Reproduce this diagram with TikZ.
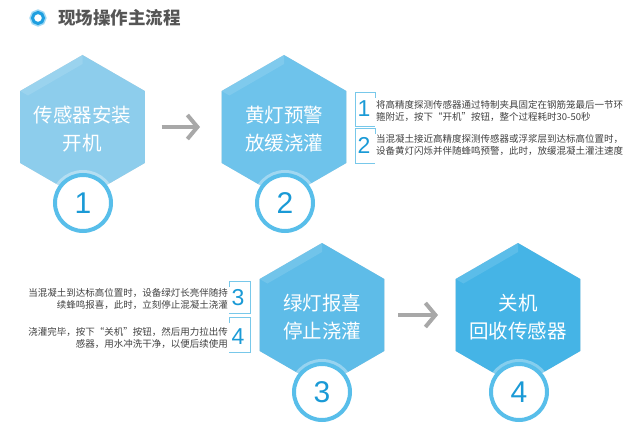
\documentclass[tikz,border=0pt]{standalone}
\usepackage{fontspec}
\setmainfont{Noto Sans CJK SC}
\newfontfamily\numfont{Liberation Sans}
\usepackage{xcolor}
\usetikzlibrary{arrows.meta,positioning}
\definecolor{hexA}{RGB}{141,205,236}
\definecolor{hexB}{RGB}{110,195,235}
\definecolor{hexC}{RGB}{94,188,232}
\definecolor{hexD}{RGB}{69,180,230}
\definecolor{shadowgrey}{RGB}{224,224,224}
\definecolor{ringblue}{RGB}{88,190,234}
\definecolor{numblue}{RGB}{26,154,214}
\definecolor{boxblue}{RGB}{120,200,234}
\definecolor{arrowgrey}{RGB}{168,168,168}
\definecolor{notegrey}{RGB}{64,64,64}
\definecolor{titlegrey}{RGB}{85,85,85}
\definecolor{iconblue}{RGB}{30,159,224}
\definecolor{iconhalo}{RGB}{160,216,243}

\begin{document}
\begin{tikzpicture}[x=1pt,y=-1pt,
	steptext/.style={inner sep=0pt,text=white,align=center,yshift=-2pt,font=\fontsize{19.5}{28}\selectfont},
	numring/.style={circle,minimum size=56pt,inner sep=0pt,fill=white,draw=ringblue,
		line width=4pt,text=numblue,font=\numfont\fontsize{30}{30}\selectfont,
		preaction={draw=white,draw opacity=.35,line width=10pt}},
	boxnum/.style={inner sep=0pt,text=numblue,font=\numfont\fontsize{23}{23}\selectfont},
	note/.style={inner sep=0pt,text=notegrey,font=\fontsize{9.5}{12}\selectfont},
	boxline/.style={draw=boxblue,line width=.8pt},
	flow/.style={draw=arrowgrey,line width=4pt,-{Straight Barb[length=10pt,width=24pt]}}]
	\useasboundingbox (0,0) rectangle (625,428);
	
	% title
	\node[circle,minimum size=11pt,inner sep=0pt,fill=white,draw=iconblue,line width=3pt,
		preaction={draw=iconhalo,line width=6pt}] (icon) at (38,18) {};
	\node[anchor=west,inner sep=0pt,text=titlegrey,font=\fontsize{17.5}{20}\selectfont\bfseries] (title) at (58,18) {现场操作主流程};
	
	% hexagons
	\coordinate (c1) at (82.5,127);
	\coordinate (c2) at (284,127);
	\coordinate (c3) at (322,315);
	\coordinate (c4) at (518,315);
	\foreach \c/\col in {c1/hexA,c2/hexB,c3/hexC,c4/hexD} {
		\fill[shadowgrey,xshift=3pt,yshift=1.5pt] (\c) +(90:72) -- +(150:72) -- +(210:72) -- +(270:72) -- +(330:72) -- +(30:72) -- cycle;
		\fill[\col] (\c) +(90:72) -- +(150:72) -- +(210:72) -- +(270:72) -- +(330:72) -- +(30:72) -- cycle;
		\fill[white,opacity=.12] (\c) +(210:72) -- +(270:72) -- +(270:63) -- +(210:63) -- cycle;
	}
	
	% steps
	\node[steptext] (s1) at (c1) {传感器安装\\开机};
	\node[steptext] (s2) at (c2) {黄灯预警\\放缓浇灌};
	\node[steptext] (s3) at (c3) {绿灯报喜\\停止浇灌};
	\node[steptext] (s4) at (c4) {关机\\回收传感器};
	
	\node[numring] (n1) at (83,203) {1};
	\node[numring] (n2) at (285,203) {2};
	\node[numring] (n3) at (322,392) {3};
	\node[numring] (n4) at (519,392) {4};
	
	\draw[flow,shorten <=79pt,shorten >=84pt] (c1) -- (c2);
	\draw[flow,shorten <=76pt,shorten >=80pt] (c3) -- (c4);
	
	% notes beside step 2
	\draw[boxline] (375,98) -- (375,92) -- (355,92) -- (355,126) -- (375,126);
	\draw[boxline] (375,134) -- (375,128) -- (355,128) -- (355,163) -- (375,163);
	\node[boxnum] (b1) at (364,109) {1};
	\node[boxnum] (b2) at (364,145) {2};
	\node[note,anchor=west,align=left] (t1) at (376,111) {将高精度探测传感器通过特制夹具固定在钢筋笼最后一节环\\箍附近，按下“开机”按钮，整个过程耗时30-50秒};
	\node[note,anchor=west,align=left] (t2) at (376,145) {当混凝土接近高精度探测传感器或浮浆层到达标高位置时，\\设备黄灯闪烁并伴随蜂鸣预警，此时，放缓混凝土灌注速度};
	
	% notes beside step 3
	\draw[boxline] (229,287) -- (229,281) -- (250,281) -- (250,313) -- (229,313);
	\draw[boxline] (229,323) -- (229,317) -- (250,317) -- (250,352) -- (229,352);
	\node[boxnum] (b3) at (238,298) {3};
	\node[boxnum] (b4) at (238,337) {4};
	\node[note,anchor=east,align=right] (t3) at (228,298.5) {当混凝土到达标高位置时，设备绿灯长亮伴随持\\续蜂鸣报喜，此时，立刻停止混凝土浇灌};
	\node[note,anchor=east,align=right] (t4) at (228,337.5) {浇灌完毕，按下“关机”按钮，然后用力拉出传\\感器，用水冲洗干净，以便后续使用};
\end{tikzpicture}
\end{document}
